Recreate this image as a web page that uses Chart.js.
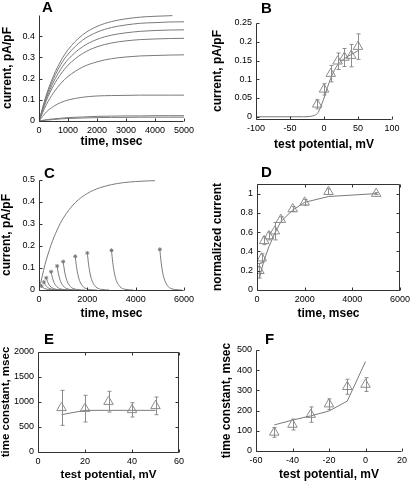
<!DOCTYPE html>
<html>
<head>
<meta charset="utf-8">
<script src="https://cdn.jsdelivr.net/npm/chart.js@4.4.1/dist/chart.umd.min.js"></script>
<style>
  body { margin: 0; background: #fff; }
  #fig { position: relative; width: 414px; height: 481px; overflow: hidden; }
  canvas { position: absolute; }
</style>
</head>
<body>
<div id="fig">
  <canvas id="panelA"></canvas>
  <canvas id="panelB"></canvas>
  <canvas id="panelC"></canvas>
  <canvas id="panelD"></canvas>
  <canvas id="panelE"></canvas>
  <canvas id="panelF"></canvas>
</div>
<script>
// ---- A: activation traces ----
const timeA = [0, 250, 500, 750, 1000, 1500, 2000, 2500, 3000, 3500, 4000, 4500, 5000];
const timeATop = [0, 250, 500, 750, 1000, 1500, 2000, 2500, 3000, 3500, 4000, 4600];
const currentATop = [0, .122, .213, .283, .336, .406, .446, .469, .482, .490, .494, .497];
const currentA = [
    [0, .114, .200, .266, .315, .381, .419, .441, .453, .461, .464, .467, .468],
    [0, .105, .184, .244, .290, .350, .385, .405, .416, .423, .427, .429, .430],
    [0, .095, .167, .221, .263, .318, .350, .368, .378, .384, .387, .389, .390],
    [0, .076, .133, .177, .210, .254, .279, .294, .302, .307, .309, .311, .312],
    [0, .042, .069, .087, .099, .112, .118, .120, .121, .122, .122, .122, .122],
    [0, .006, .010, .013, .016, .019, .022, .023, .024, .024, .025, .025, .025],
    [0, .004, .007, .010, .012, .014, .016, .017, .017, .018, .018, .018, .018]
];
const ticksAx = [0, 1000, 2000, 3000, 4000, 5000];
const ticksAy = [0, 0.1, 0.2, 0.3, 0.4];

// ---- B: I-V ----
const potentialB = [-10, 0, 10, 20, 30, 40, 50];
const currentB = [0.033, 0.073, 0.115, 0.148, 0.158, 0.163, 0.187];
const currentErrB = [0.012, 0.015, 0.022, 0.022, 0.024, 0.03, 0.034];
const fitPotentialB = [-100, -50, -30, -20, -15, -10, -5, 0, 5, 10, 15, 20, 30, 40, 50];
const fitCurrentB = [0, 0, 0, 0.001, 0.003, 0.008, 0.025, 0.05, 0.078, 0.103, 0.123, 0.138, 0.155, 0.166, 0.176];
const ticksBx = [-100, -50, 0, 50, 100];
const ticksBy = [0, 0.05, 0.1, 0.15, 0.2, 0.25];

// ---- C: envelope + tails ----
const timeCFull = [0, 250, 500, 750, 1000, 1500, 2000, 2500, 3000, 3500, 4000, 4500, 4800];
const currentCFull = [0, .116, .205, .273, .326, .397, .439, .464, .479, .488, .493, .496, .497];
const pulseTimes = [100, 200, 300, 500, 750, 1000, 1500, 2000, 3000, 5000];
const pulsePeaks = [.018, .036, .055, .083, .109, .129, .153, .168, .180, .185];
const tailTimes = [
    [100, 150, 200, 250, 300, 400, 500, 700, 1000],
    [200, 250, 300, 350, 400, 500, 600, 800, 1100],
    [300, 350, 400, 450, 500, 600, 700, 900, 1200],
    [500, 550, 600, 650, 700, 800, 900, 1100, 1400],
    [750, 800, 850, 900, 950, 1050, 1150, 1350, 1650],
    [1000, 1050, 1100, 1150, 1200, 1300, 1400, 1600, 1900],
    [1500, 1550, 1600, 1650, 1700, 1800, 1900, 2100, 2400],
    [2000, 2050, 2100, 2150, 2200, 2300, 2400, 2600, 2900],
    [3000, 3050, 3100, 3150, 3200, 3300, 3400, 3600, 3900],
    [5000, 5050, 5100, 5150, 5200, 5300, 5400, 5600, 5900]
];
const tailCurrents = [
    [.018, .0126, .0088, .0061, .0043, .0022, .001, .0003, 0],
    [.036, .0252, .0176, .0122, .0086, .0043, .0021, .0005, 0],
    [.055, .0385, .027, .0187, .0132, .0066, .0031, .0008, 0],
    [.083, .0581, .0407, .0282, .0199, .01, .0047, .0012, 0],
    [.109, .0763, .0534, .0371, .0262, .0131, .0062, .0015, 0],
    [.129, .0903, .0632, .0439, .031, .0155, .0074, .0018, 0],
    [.153, .1071, .075, .052, .0367, .0184, .0087, .0021, 0],
    [.168, .1176, .0823, .0571, .0403, .0202, .0096, .0024, 0],
    [.18, .126, .0882, .0612, .0432, .0216, .0103, .0025, 0],
    [.185, .1295, .0907, .0629, .0444, .0222, .0105, .0026, 0]
];
const ticksCx = [0, 2000, 4000, 6000];
const ticksCy = [0, 0.1, 0.2, 0.3, 0.4, 0.5];

// ---- D: normalized envelope ----
const timeD = [100, 200, 300, 500, 750, 1000, 1500, 2000, 3000, 5000];
const normD = [0.2, 0.33, 0.51, 0.56, 0.61, 0.73, 0.84, 0.91, 1.02, 1.0];
const normErrD = [0.075, 0.045, 0.04, 0.04, 0.09, 0.03, 0.025, 0.03, 0.03, 0.01];
const fitD = [0.12, 0.22, 0.31, 0.45, 0.59, 0.71, 0.83, 0.91, 0.97, 1.0];
const ticksDx = [0, 2000, 4000, 6000];
const ticksDy = [0, 0.2, 0.4, 0.6, 0.8, 1];

// ---- E: activation time constant ----
const potentialE = [10, 20, 30, 40, 50];
const tauE = [883, 867, 1007, 843, 923];
const tauErrE = [350, 267, 207, 143, 177];
const fitE = [747, 833, 833, 833, 833];
const ticksEx = [0, 20, 40, 60];
const ticksEy = [0, 500, 1000, 1500, 2000];

// ---- F: deactivation time constant ----
const potentialF = [-50, -40, -30, -20, -10, 0];
const tauF = [92, 131, 180, 232, 318, 329];
const tauErrF = [24, 27, 38, 26, 37, 34];
const fitF = [129, 153, 174, 198, 247, 443];
const ticksFx = [-60, -40, -20, 0, 20];
const ticksFy = [0, 100, 200, 300, 400, 500];

const FONT = '"Liberation Sans", Arial, sans-serif';
const LINE = "#7a7a7a";
const MARK = "#8c8c8c";

function pts(xs, ys) {
    return xs.map((x, i) => ({ x: x, y: ys[i] }));
}

function curve(xs, ys, smooth) {
    return {
        data: pts(xs, ys),
        showLine: true,
        borderColor: LINE,
        borderWidth: 1,
        pointRadius: 0,
        tension: 0,
        cubicInterpolationMode: smooth ? "monotone" : "default"
    };
}

function triangles(xs, ys, errs) {
    return {
        data: pts(xs, ys),
        showLine: false,
        pointStyle: "triangle",
        pointRadius: 5.5,
        borderColor: MARK,
        backgroundColor: "rgba(0,0,0,0)",
        borderWidth: 1,
        errors: errs
    };
}

// axes lines, inward ticks, error bars and the panel letter
const framePlugin = {
    id: "frame",
    afterDatasetsDraw(chart, args, opts) {
        const { ctx, chartArea: a, scales } = chart;
        ctx.save();

        // error bars
        chart.data.datasets.forEach((ds, i) => {
            if (!ds.errors) return;
            const meta = chart.getDatasetMeta(i);
            ctx.strokeStyle = MARK;
            ctx.lineWidth = 1;
            ctx.beginPath();
            ds.data.forEach((p, j) => {
                const x = Math.round(meta.data[j].x) + 0.5;
                const y1 = scales.y.getPixelForValue(p.y + ds.errors[j]);
                const y2 = scales.y.getPixelForValue(p.y - ds.errors[j]);
                ctx.moveTo(x, y1); ctx.lineTo(x, y2);
                ctx.moveTo(x - 2, y1); ctx.lineTo(x + 2, y1);
                ctx.moveTo(x - 2, y2); ctx.lineTo(x + 2, y2);
            });
            ctx.stroke();
        });

        ctx.strokeStyle = "#333";
        ctx.lineWidth = 1;
        ctx.beginPath();
        const L = Math.round(a.left) + 0.5, B = Math.round(a.bottom) + 0.5;
        const T = Math.round(a.top) + 0.5, R = Math.round(a.right) - 0.5;
        ctx.moveTo(L, T); ctx.lineTo(L, B); ctx.lineTo(R, B);
        if (opts.box) { ctx.lineTo(R, T); ctx.lineTo(L, T); }
        scales.x.ticks.forEach(t => {
            const px = Math.round(scales.x.getPixelForValue(t.value)) + 0.5;
            ctx.moveTo(px, B); ctx.lineTo(px, B - 3);
            if (opts.box) { ctx.moveTo(px, T); ctx.lineTo(px, T + 3); }
        });
        scales.y.ticks.forEach(t => {
            const py = Math.round(scales.y.getPixelForValue(t.value)) + 0.5;
            ctx.moveTo(L, py); ctx.lineTo(L + 3, py);
            if (opts.box) { ctx.moveTo(R, py); ctx.lineTo(R - 3, py); }
        });
        ctx.stroke();

        ctx.fillStyle = "#000";
        ctx.font = "bold 15px " + FONT;
        ctx.textBaseline = "alphabetic";
        ctx.fillText(opts.letter, opts.lx, opts.ly);
        ctx.restore();
    }
};

function makePanel(id, p) {
    const cv = document.getElementById(id);
    cv.width = p.cell.w;
    cv.height = p.cell.h;
    cv.style.left = p.cell.x + "px";
    cv.style.top = p.cell.y + "px";

    const tickFont = { family: FONT, size: 9 };
    const titleFont = { family: FONT, size: p.titleSize || 12, weight: "bold", lineHeight: 1 };

    return new Chart(cv, {
        type: "scatter",
        data: { datasets: p.datasets },
        options: {
            responsive: false,
            animation: false,
            events: [],
            layout: {
                padding: {
                    left: 0,
                    bottom: 0,
                    top: p.plot.t - p.cell.y,
                    right: p.cell.x + p.cell.w - p.plot.r
                }
            },
            plugins: {
                legend: { display: false },
                tooltip: { enabled: false },
                frame: { box: p.box, letter: p.letter, lx: p.lx, ly: p.ly }
            },
            scales: {
                x: {
                    type: "linear",
                    position: "bottom",
                    min: p.xmin,
                    max: p.xmax,
                    grid: { display: false, drawTicks: false },
                    border: { display: false },
                    afterBuildTicks: s => { s.ticks = p.xticks.map(v => ({ value: v })); },
                    afterFit: s => { s.height = p.cell.y + p.cell.h - p.plot.b; },
                    ticks: {
                        font: tickFont, color: "#000", padding: 4,
                        maxRotation: 0, autoSkip: false,
                        callback: v => String(v)
                    },
                    title: {
                        display: true, text: p.xtitle, font: titleFont, color: "#000",
                        padding: { top: 0, bottom: p.xtpad }
                    }
                },
                y: {
                    type: "linear",
                    position: "left",
                    min: p.ymin,
                    max: p.ymax,
                    grid: { display: false, drawTicks: false },
                    border: { display: false },
                    afterBuildTicks: s => { s.ticks = p.yticks.map(v => ({ value: v })); },
                    afterFit: s => { s.width = p.plot.l - p.cell.x; },
                    ticks: {
                        font: tickFont, color: "#000", padding: 4,
                        autoSkip: false,
                        callback: v => String(v)
                    },
                    title: {
                        display: true, text: p.ytitle, font: titleFont, color: "#000",
                        padding: { top: p.ytpad, bottom: 0 }
                    }
                }
            }
        },
        plugins: [framePlugin]
    });
}

// panel A
const dsA = [curve(timeATop, currentATop, true)].concat(currentA.map(c => curve(timeA, c, true)));
makePanel("panelA", {
    cell: { x: 0, y: 0, w: 207, h: 160 },
    plot: { l: 39, r: 184, t: 15, b: 121 },
    xmin: 0, xmax: 5000, ymin: 0, ymax: 0.5,
    xticks: ticksAx, yticks: ticksAy,
    xtitle: "time, msec", ytitle: "current, pA/pF",
    xtpad: 12, ytpad: 1.5,
    letter: "A", lx: 42, ly: 12, box: false,
    datasets: dsA
});

// panel B
makePanel("panelB", {
    cell: { x: 207, y: 0, w: 207, h: 160 },
    plot: { l: 256, r: 392, t: 23, b: 119 },
    xmin: -100, xmax: 100, ymin: -0.006, ymax: 0.25,
    xticks: ticksBx, yticks: ticksBy,
    xtitle: "test potential, mV", ytitle: "current, pA/pF",
    xtpad: 9, ytpad: 5,
    letter: "B", lx: 54, ly: 13, box: false,
    datasets: [
        curve(fitPotentialB, fitCurrentB, true),
        triangles(potentialB, currentB, currentErrB)
    ]
});

// panel C
const dsC = [curve(timeCFull, currentCFull, true)]
    .concat(tailTimes.map((t, i) => curve(t, tailCurrents[i], true)))
    .concat([{
        data: pts(pulseTimes, pulsePeaks),
        showLine: false,
        pointStyle: "star",
        pointRadius: 2,
        borderColor: "#777",
        borderWidth: 1
    }]);
makePanel("panelC", {
    cell: { x: 0, y: 160, w: 207, h: 160 },
    plot: { l: 39, r: 184, t: 180, b: 290 },
    xmin: 0, xmax: 6000, ymin: 0, ymax: 0.5,
    xticks: ticksCx, yticks: ticksCy,
    xtitle: "time, msec", ytitle: "current, pA/pF",
    xtpad: 0, ytpad: 1,
    letter: "C", lx: 44, ly: 18, box: false,
    datasets: dsC
});

// panel D
makePanel("panelD", {
    cell: { x: 207, y: 160, w: 207, h: 160 },
    plot: { l: 257, r: 401, t: 184, b: 290 },
    xmin: 0, xmax: 6000, ymin: 0, ymax: 1.1,
    xticks: ticksDx, yticks: ticksDy,
    xtitle: "time, msec", ytitle: "normalized current",
    xtpad: 0, ytpad: 4.5,
    letter: "D", lx: 54, ly: 17, box: true,
    datasets: [
        curve(timeD, fitD, false),
        triangles(timeD, normD, normErrD)
    ]
});

// panel E
makePanel("panelE", {
    cell: { x: 0, y: 320, w: 207, h: 161 },
    plot: { l: 38, r: 179, t: 352, b: 452 },
    xmin: 0, xmax: 60, ymin: 0, ymax: 2000,
    xticks: ticksEx, yticks: ticksEy,
    xtitle: "test potential, mV", ytitle: "time constant, msec",
    titleSize: 11.5,
    xtpad: 0, ytpad: 0,
    letter: "E", lx: 44, ly: 24, box: true,
    datasets: [
        curve(potentialE, fitE, false),
        triangles(potentialE, tauE, tauErrE)
    ]
});

// panel F
makePanel("panelF", {
    cell: { x: 207, y: 320, w: 207, h: 161 },
    plot: { l: 256, r: 402, t: 350, b: 451 },
    xmin: -60, xmax: 20, ymin: 0, ymax: 500,
    xticks: ticksFx, yticks: ticksFy,
    xtitle: "test potential, mV", ytitle: "time constant, msec",
    xtpad: 0, ytpad: 14,
    letter: "F", lx: 58, ly: 24, box: false,
    datasets: [
        curve(potentialF, fitF, false),
        triangles(potentialF, tauF, tauErrF)
    ]
});
</script>
</body>
</html>
